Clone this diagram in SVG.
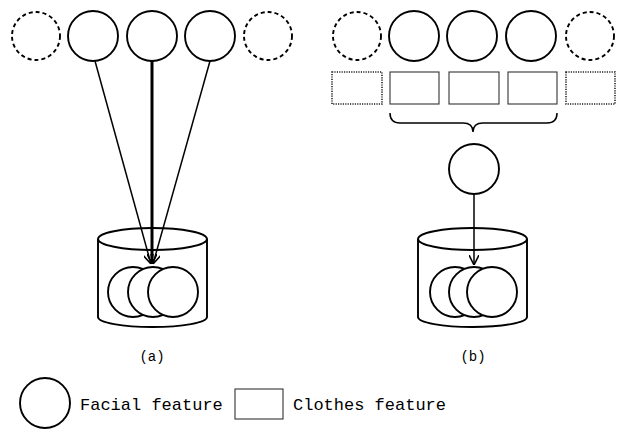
<svg xmlns="http://www.w3.org/2000/svg" width="622" height="430" viewBox="0 0 622 430">
<defs>
<style>
.c{fill:#fff;stroke:#000;stroke-width:1.9}
.d{fill:none;stroke:#000;stroke-width:1.9;stroke-dasharray:4 3}
.r{fill:#fff;stroke:#333;stroke-width:1.1}
.rd{fill:#fff;stroke:#222;stroke-width:1.6;stroke-dasharray:1.2 1.2}
.l{fill:none;stroke:#000;stroke-width:1.5}
.t{font-family:"Liberation Mono","Courier New",monospace;fill:#000}
</style>
<marker id="ah" viewBox="0 0 10 10" refX="10" refY="5" markerWidth="10" markerHeight="10" markerUnits="userSpaceOnUse" orient="auto">
<path d="M0,0 L10,5 L0,10" fill="none" stroke="#000" stroke-width="1.6"/>
</marker>
</defs>
<rect width="622" height="430" fill="#fff"/>
<g id="panel-a">
<g id="a-f1"><circle class="d" cx="36" cy="36" r="24"/></g>
<g id="a-f2"><circle class="c" cx="93" cy="36" r="25"/></g>
<g id="a-f3"><circle class="c" cx="152" cy="36" r="25"/></g>
<g id="a-f4"><circle class="c" cx="210" cy="36" r="25"/></g>
<g id="a-f5"><circle class="d" cx="268" cy="36" r="24"/></g>
<g id="a-db">
<path class="c" d="M98,239 L98,317 A54.5,10 0 0 0 207,317 L207,239"/>
<ellipse class="c" cx="152.5" cy="239" rx="54.5" ry="11"/>
<circle class="c" cx="133" cy="292" r="25"/>
<circle class="c" cx="153" cy="292" r="25"/>
<circle class="c" cx="173" cy="292" r="25"/>
</g>
<text class="t" x="152" y="361" font-size="14" text-anchor="middle">(a)</text>
</g>
<g id="panel-b">
<g id="b-f1"><circle class="d" cx="357" cy="36" r="24"/></g>
<g id="b-f2"><circle class="c" cx="414" cy="36" r="25"/></g>
<g id="b-f3"><circle class="c" cx="472" cy="36" r="25"/></g>
<g id="b-f4"><circle class="c" cx="531" cy="36" r="25"/></g>
<g id="b-f5"><circle class="d" cx="590" cy="36" r="24"/></g>
<g id="b-c1"><rect class="rd" x="332" y="72" width="50" height="32"/></g>
<g id="b-c2"><rect class="r" x="390" y="72" width="49" height="32"/></g>
<g id="b-c3"><rect class="r" x="449" y="72" width="50" height="32"/></g>
<g id="b-c4"><rect class="r" x="508" y="72" width="49" height="32"/></g>
<g id="b-c5"><rect class="rd" x="566" y="72" width="49" height="32"/></g>
<g id="b-merged"><circle class="c" cx="474" cy="169" r="25"/></g>
<g id="b-db">
<path class="c" d="M418,239 L418,317 A54.5,10 0 0 0 527,317 L527,239"/>
<ellipse class="c" cx="472.5" cy="239" rx="54.5" ry="11"/>
<circle class="c" cx="455" cy="292" r="25"/>
<circle class="c" cx="474" cy="292" r="25"/>
<circle class="c" cx="492" cy="292" r="25"/>
</g>
<text class="t" x="473" y="361" font-size="14" text-anchor="middle">(b)</text>
</g>
<g id="connectors">
<path class="l" d="M95,61 L151,264" marker-end="url(#ah)"/>
<path class="l" d="M210,61 L153,264" marker-end="url(#ah)"/>
<path fill="none" stroke="#000" stroke-width="3" d="M152,61 L152,264" marker-end="url(#ah)"/>
<path class="l" d="M390,113 Q390,123 400,123 L463,123 Q473,123 473,132 Q473,123 483,123 L547,123 Q557,123 557,113"/>
<path class="l" d="M474,194 L474,265" marker-end="url(#ah)"/>
</g>
<g id="legend">
<g id="legend-face"><circle class="c" cx="45" cy="403" r="25"/></g>
<text class="t" x="80" y="410" font-size="17">Facial feature</text>
<g id="legend-clothes"><rect class="r" x="235" y="389" width="48" height="30"/></g>
<text class="t" x="293" y="410" font-size="17">Clothes feature</text>
</g>
</svg>
